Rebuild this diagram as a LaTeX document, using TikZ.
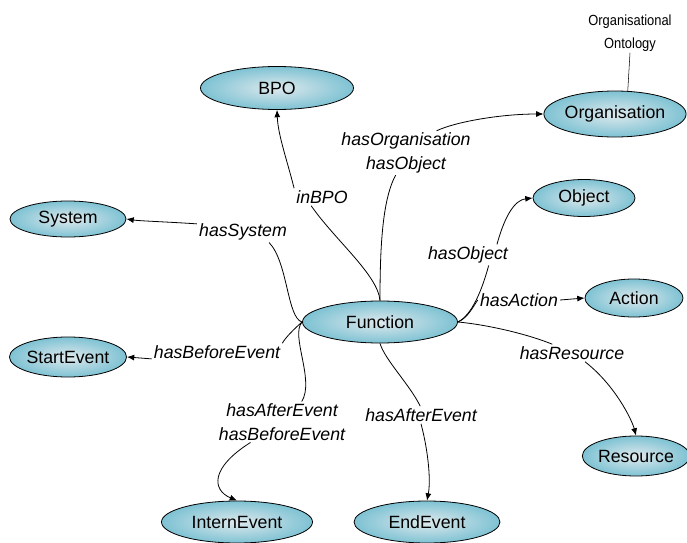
\documentclass[tikz,border=0pt]{standalone}
\usepackage{fontspec}
\setmainfont{Liberation Sans}
\newfontfamily\narrowsans[FakeStretch=0.88]{Liberation Sans}
\usetikzlibrary{shapes.geometric,arrows.meta}
\definecolor{conceptin}{RGB}{222,233,237}
\definecolor{conceptout}{RGB}{126,194,211}
\begin{document}
\begin{tikzpicture}[x=0.75pt,y=-0.75pt,
  concept/.style={ellipse,draw=black,line width=0.6pt,inner color=conceptin,
    outer color=conceptout,inner sep=0pt,font=\fontsize{13.3}{16}\selectfont},
  rel/.style={font=\fontsize{13.3}{17.5}\selectfont\itshape,inner sep=1.5pt,align=center},
  link/.style={line width=0.6pt},
  arr/.style={link,-{Latex[length=5.5pt,width=4.5pt]}},
  note/.style={font=\narrowsans\fontsize{11}{17}\selectfont,align=center,inner sep=1pt}
]
\useasboundingbox (0,0) rectangle (687,543);

% concepts
\node[concept,minimum width=114.75pt,minimum height=32.25pt] (bpo) at (277,88) {BPO};
\node[concept,minimum width=105pt,minimum height=34.5pt] (org) at (615,114) {Organisation};
\node[concept,minimum width=87pt,minimum height=27pt] (sys) at (68,219) {System};
\node[concept,minimum width=76.5pt,minimum height=27.75pt] (obj) at (584,198) {Object};
\node[concept,minimum width=73.5pt,minimum height=28.5pt] (act) at (634,298) {Action};
\node[concept,minimum width=116.25pt,minimum height=31.5pt] (fn) at (380,322) {Function};
\node[concept,minimum width=87.75pt,minimum height=30pt] (se) at (68,357) {StartEvent};
\node[concept,minimum width=78pt,minimum height=30pt] (res) at (636,456) {Resource};
\node[concept,minimum width=113.25pt,minimum height=31.5pt] (ie) at (237,522) {InternEvent};
\node[concept,minimum width=109.5pt,minimum height=31.5pt] (ee) at (427,522) {EndEvent};

% annotation
\node[note] (onto) at (630,33) {Organisational\\Ontology};
\draw[line width=0.4pt] (onto.south) -- (org.61);

% relation labels
\node[rel] (inbpo) at (322,197) {inBPO};
\node[rel] (orgl) at (406,153) {hasOrganisation\\hasObject};
\node[rel] (sysl) at (243,232) {hasSystem};
\node[rel] (objl) at (468,255) {hasObject};
\node[rel] (actl) at (519,300) {hasAction};
\node[rel] (bel) at (217,352) {hasBeforeEvent};
\node[rel] (resl) at (572,353) {hasResource};
\node[rel] (ael) at (282,422) {hasAfterEvent\\hasBeforeEvent};
\node[rel] (ael2) at (421,415) {hasAfterEvent};

% inBPO
\draw[link] (fn.north) .. controls (378,275) and (335,240) .. (inbpo.219);
\draw[arr] (inbpo.north west) .. controls (287,160) and (278,135) .. (bpo.south);
% hasOrganisation / hasObject
\draw[link] (fn.north) .. controls (380,250) and (382,200) .. (orgl.245);
\draw[arr] (orgl.36) .. controls (455,122) and (500,114) .. (org.west);
% hasSystem
\draw[link] (fn.west) .. controls (287,318) and (288,262) .. (sysl.-22);
\draw[arr] (sysl.170) .. controls (170,222) and (140,221) .. (sys.east);
% hasBeforeEvent
\draw[link] (fn.west) .. controls (295,328) and (285,338) .. (bel.north east);
\draw[arr] (bel.186) -- (se.east);
% hasAfterEvent / hasBeforeEvent
\draw[link] (fn.west) .. controls (290,335) and (315,380) .. (ael.46);
\draw[arr] (ael.213) .. controls (210,468) and (212,490) .. (ie.north);
% hasAfterEvent
\draw[link] (fn.south) .. controls (385,360) and (410,385) .. (ael2.95);
\draw[arr] (ael2.south) .. controls (428,450) and (431,480) .. (ee.north);
% hasResource
\draw[link] (fn.east) .. controls (490,325) and (530,335) .. (resl.156);
\draw[arr] (resl.-34) .. controls (615,385) and (632,420) .. (res.north);
% hasObject
\draw[link] (fn.east) .. controls (472,315) and (482,290) .. (objl.-27);
\draw[arr] (objl.20) .. controls (505,215) and (515,200) .. (obj.west);
% hasAction
\draw[link] (fn.east) .. controls (468,318) and (474,305) .. (actl.west);
\draw[arr] (actl.east) -- (act.west);
\end{tikzpicture}
\end{document}
